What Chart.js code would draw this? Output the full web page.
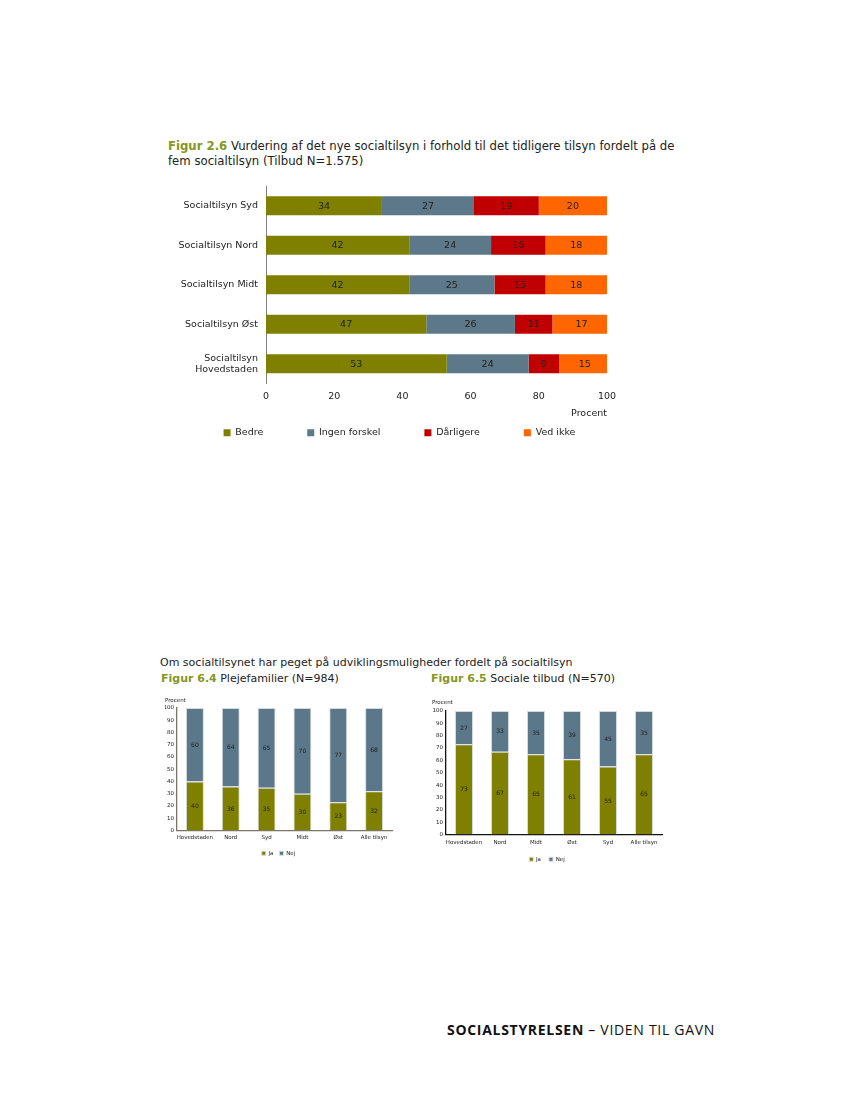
<!DOCTYPE html>
<html lang="da">
<head>
<meta charset="utf-8">
<title>Socialtilsyn figurer</title>
<script src="https://cdn.jsdelivr.net/npm/chart.js@4.4.1/dist/chart.umd.min.js"></script>
<style>
  html, body { margin: 0; padding: 0; background: #fff; }
  body { width: 850px; height: 1100px; position: relative; overflow: hidden; font-family: "DejaVu Sans", Verdana, sans-serif; color: #222; }
  .txt { position: absolute; white-space: nowrap; }
  .fig { color: #86961e; font-weight: bold; }
  canvas { position: absolute; }
  #footer { font-family: "Open Sans", sans-serif; font-size: 14px; color: #111; letter-spacing: 0.7px; }
</style>
</head>
<body>

<div class="txt" style="left:168px;top:139px;font-size:11.7px;line-height:15px;">
  <span class="fig">Figur 2.6</span> Vurdering af det nye socialtilsyn i forhold til det tidligere tilsyn fordelt på de<br>fem socialtilsyn (Tilbud N=1.575)
</div>
<canvas id="fig26" width="480" height="303" style="left:160px;top:180px;"></canvas>

<div class="txt" style="left:160px;top:655px;font-size:11px;line-height:15px;">Om socialtilsynet har peget på udviklingsmuligheder fordelt på socialtilsyn</div>
<div class="txt" style="left:161px;top:671px;font-size:11px;line-height:15px;"><span class="fig">Figur 6.4</span> Plejefamilier (N=984)</div>
<div class="txt" style="left:431px;top:671px;font-size:11px;line-height:15px;"><span class="fig">Figur 6.5</span> Sociale tilbud (N=570)</div>
<canvas id="fig64" width="245" height="171" style="left:155px;top:695px;"></canvas>
<canvas id="fig65" width="250" height="175" style="left:420px;top:697px;"></canvas>

<div id="footer" class="txt" style="left:447px;top:1020px;line-height:20px;"><b>SOCIALSTYRELSEN</b> – VIDEN TIL GAVN</div>

<script>
// Figur 2.6 - vurdering fordelt på de fem socialtilsyn (procent)
const tilsynNavne = ['Socialtilsyn Syd', 'Socialtilsyn Nord', 'Socialtilsyn Midt', 'Socialtilsyn Øst', ['Socialtilsyn', 'Hovedstaden']];
const bedre = [34, 42, 42, 47, 53];
const ingenForskel = [27, 24, 25, 26, 24];
const daarligere = [19, 16, 15, 11, 9];
const vedIkke = [20, 18, 18, 17, 15];
const procentTicks = [0, 20, 40, 60, 80, 100];

// Figur 6.4 - plejefamilier
const plejeNavne = ['Hovedstaden', 'Nord', 'Syd', 'Midt', 'Øst', 'Alle tilsyn'];
const plejeJa = [40, 36, 35, 30, 23, 32];
const plejeNej = [60, 64, 65, 70, 77, 68];

// Figur 6.5 - sociale tilbud
const tilbudNavne = ['Hovedstaden', 'Nord', 'Midt', 'Øst', 'Syd', 'Alle tilsyn'];
const tilbudJa = [73, 67, 65, 61, 55, 65];
const tilbudNej = [27, 33, 35, 39, 45, 35];

const FONT = 'DejaVu Sans';

// writes the value in the middle of every bar segment
const barValues = {
    id: 'barValues',
    afterDatasetsDraw(chart, args, opts) {
        const ctx = chart.ctx;
        ctx.save();
        ctx.font = opts.size + 'px "' + FONT + '"';
        ctx.fillStyle = opts.color || '#222';
        ctx.textAlign = 'center';
        ctx.textBaseline = 'middle';
        chart.data.datasets.forEach((ds, i) => {
            const meta = chart.getDatasetMeta(i);
            if (meta.hidden) return;
            meta.data.forEach((bar, j) => {
                const p = bar.getCenterPoint();
                ctx.fillText(ds.data[j], p.x, p.y + 0.5);
            });
        });
        ctx.restore();
    }
};

// moves the legend after layout (the legend padding is also the item gap)
const legendNudge = {
    id: 'legendNudge',
    afterLayout(chart, args, opts) {
        const lg = chart.legend;
        if (!lg) return;
        lg.top += opts.dy || 0;
        lg.bottom += opts.dy || 0;
        lg.left += opts.dx || 0;
        lg.right += opts.dx || 0;
    }
};

new Chart(document.getElementById('fig26'), {
    type: 'bar',
    data: {
        labels: tilsynNavne,
        datasets: [
            { label: 'Bedre', data: bedre, backgroundColor: '#7f8000' },
            { label: 'Ingen forskel', data: ingenForskel, backgroundColor: '#5d7888' },
            { label: 'Dårligere', data: daarligere, backgroundColor: '#c00000' },
            { label: 'Ved ikke', data: vedIkke, backgroundColor: '#ff6600' }
        ]
    },
    options: {
        indexAxis: 'y',
        responsive: false,
        animation: false,
        datasets: { bar: { categoryPercentage: 1, barPercentage: 0.48, borderWidth: 0 } },
        layout: { padding: { top: 6, right: 33, left: 0, bottom: 0 } },
        scales: {
            x: {
                stacked: true,
                min: 0,
                max: 100,
                afterBuildTicks: (s) => { s.ticks = procentTicks.map(v => ({ value: v })); },
                ticks: { font: { family: FONT, size: 9.5 }, color: '#222', padding: 7 },
                grid: { display: false, drawTicks: false },
                border: { display: false },
                title: { display: true, text: 'Procent', align: 'end', color: '#222', font: { family: FONT, size: 9.5 }, padding: { top: 0, bottom: 0 } },
                afterFit: (s) => { s.height = 36; }
            },
            y: {
                stacked: true,
                ticks: { font: { family: FONT, size: 9.5 }, color: '#222', padding: 8 },
                grid: { display: false, drawTicks: false },
                border: { display: true, color: '#808080', width: 1 },
                afterFit: (s) => { s.width = 106; s.paddingTop = 0; s.paddingBottom = 0; }
            }
        },
        plugins: {
            legend: {
                position: 'bottom',
                labels: { boxWidth: 7, boxHeight: 7, padding: 44, color: '#222', font: { family: FONT, size: 9.5 } }
            },
            tooltip: { enabled: false },
            barValues: { size: 9.5, color: '#222' },
            legendNudge: { dy: -35.5, dx: 16 }
        }
    },
    plugins: [barValues, legendNudge]
});

function smallStack(id, labels, ja, nej, axisColor, pad) {
    return new Chart(document.getElementById(id), {
        type: 'bar',
        data: {
            labels: labels,
            datasets: [
                { label: 'Ja', data: ja, backgroundColor: '#7f7f00' },
                { label: 'Nej', data: nej, backgroundColor: '#5b778a' }
            ]
        },
        options: {
            responsive: false,
            animation: false,
            datasets: { bar: { categoryPercentage: 1, barPercentage: 0.5, borderWidth: 1, borderColor: '#d4d9dc' } },
            layout: { padding: { left: pad.left, right: 8, top: 0, bottom: 0 } },
            scales: {
                x: {
                    stacked: true,
                    ticks: { font: { family: FONT, size: 5.5 }, color: '#222', padding: pad.xTick, autoSkip: false, maxRotation: 0 },
                    grid: { display: false, drawTicks: false },
                    border: { display: true, color: axisColor, width: 1.3 },
                    afterFit: (s) => { s.height = 14; }
                },
                y: {
                    stacked: true,
                    min: 0,
                    max: 100,
                    ticks: { stepSize: 10, font: { family: FONT, size: 5.5 }, color: '#222', padding: 3 },
                    grid: { display: false, drawTicks: false },
                    border: { display: true, color: axisColor, width: 1.3 },
                    afterFit: (s) => { s.width = pad.yAxis; }
                }
            },
            plugins: {
                title: { display: true, text: 'Procent', align: 'start', color: '#222', font: { family: FONT, size: 5.5, weight: 'normal' }, padding: { top: 2.7, bottom: pad.title } },
                legend: {
                    position: 'bottom',
                    labels: { boxWidth: 4, boxHeight: 4, padding: pad.legend, color: '#222', font: { family: FONT, size: 5.5 } }
                },
                tooltip: { enabled: false },
                barValues: { size: 6, color: '#222' }
            }
        },
        plugins: [barValues]
    });
}

smallStack('fig64', plejeNavne, plejeJa, plejeNej, '#7a7566', { left: 10, yAxis: 12, xTick: 3.7, title: 3.7, legend: 6 });
smallStack('fig65', tilbudNavne, tilbudJa, tilbudNej, '#111111', { left: 12, yAxis: 14, xTick: 4.7, title: 4.7, legend: 8 });
</script>
</body>
</html>
